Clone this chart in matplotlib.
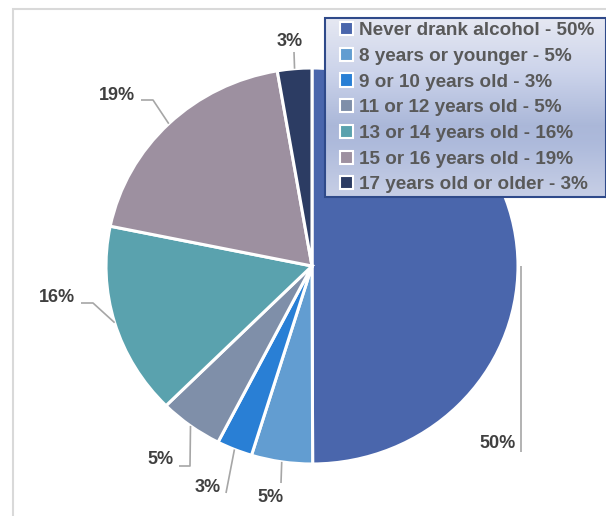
import numpy as np
import matplotlib.pyplot as plt
from matplotlib.patches import Patch, Rectangle

categories = ["Never drank alcohol", "8 years or younger", "9 or 10 years old",
              "11 or 12 years old", "13 or 14 years old", "15 or 16 years old",
              "17 years old or older"]
shares = [50.0, 4.8, 2.8, 5.0, 15.7, 19.1, 2.7]
pct_text = ["50%", "5%", "3%", "5%", "16%", "19%", "3%"]
colors = ["#4A66AC", "#629DD1", "#297FD5", "#7F8FA9", "#5AA2AE", "#9D90A0", "#2C3C63"]

W, H = 606, 516
FONT = ['Liberation Sans', 'DejaVu Sans']


def px(x, y):
    # pixel position (top-left origin) -> data coords of the overlay axes
    return x, H - y


def main():
    plt.rcParams['font.family'] = FONT
    fig = plt.figure(figsize=(W / 100, H / 100), dpi=100)

    # outer chart frame
    fig.patches.append(Rectangle((13 / W, -0.1), 1.2, (H - 9) / H + 0.1,
                                 transform=fig.transFigure, fill=False,
                                 edgecolor="#D9D9D9", linewidth=1.5))

    # pie in its own axes (slightly wider than tall, like the original)
    pl, pt, pr, pb = 106, 68, 518, 464
    pax = fig.add_axes([pl / W, (H - pb) / H, (pr - pl) / W, (pb - pt) / H])
    wedges, _ = pax.pie(shares, colors=colors, startangle=90, counterclock=False,
                        radius=1, wedgeprops=dict(edgecolor="white", linewidth=2.2))
    pax.set_xlim(-1, 1)
    pax.set_ylim(-1, 1)
    pax.set_aspect("auto")
    pax.axis("off")

    ax = fig.add_axes([0, 0, 1, 1])
    ax.set_xlim(0, W)
    ax.set_ylim(0, H)
    ax.axis("off")

    cx, cy = px((pl + pr) / 2, (pt + pb) / 2)
    rx, ry = (pr - pl) / 2, (pb - pt) / 2

    # data labels with leader lines
    label_pos = [(498, 443), (271, 497), (208, 488), (161, 460), (57, 297), (117, 96), (290, 42)]
    elbows = [[(521, 452)], [(281, 483)], [(226, 493)], [(179, 466), (190, 466)],
              [(81, 303), (93, 303)], [(141, 100), (153, 100)], [(294, 52)]]
    for i, (w, txt, pos, elb) in enumerate(zip(wedges, pct_text, label_pos, elbows)):
        mid = np.deg2rad((w.theta1 + w.theta2) / 2)
        a = (cx + rx * np.cos(mid), cy + ry * np.sin(mid))
        pts = [px(*p) for p in elb]
        if i == 0:
            pts.append((pts[0][0], a[1]))
        else:
            pts.append(a)
        xs, ys = zip(*pts)
        ax.plot(xs, ys, color="#A6A6A6", linewidth=1.2, solid_capstyle="butt")
        ax.text(*px(*pos), txt, ha="center", va="center", fontsize=13,
                fontweight="bold", color="#404040")

    # legend box with gradient
    lx0, ly0, lx1, ly1 = 325, 18, 606, 197
    grad = np.array([
        [0.90, 0.91, 0.95],
        [0.80, 0.83, 0.92],
        [0.67, 0.72, 0.85],
        [0.68, 0.73, 0.86],
        [0.78, 0.81, 0.90],
    ])
    stops = [0.0, 0.3, 0.6, 0.7, 1.0]
    t = np.linspace(0, 1, 200)
    img = np.stack([np.interp(t, stops, grad[:, k]) for k in range(3)], axis=-1)
    img = np.repeat(img[:, None, :], 2, axis=1)
    ax.imshow(img, extent=(lx0, lx1, H - ly1, H - ly0), aspect="auto", zorder=3)
    ax.add_patch(Rectangle(px(lx0, ly1), lx1 - lx0, ly1 - ly0, fill=False,
                           edgecolor="#2F4A8A", linewidth=1.5, zorder=4))
    ax.set_xlim(0, W)
    ax.set_ylim(0, H)

    handles = [Patch(facecolor=c, edgecolor="white", linewidth=1.5) for c in colors]
    labels = ["%s - %s" % (c, p) for c, p in zip(categories, pct_text)]
    leg = ax.legend(handles, labels, loc="upper left", bbox_to_anchor=px(338, 20),
                    bbox_transform=ax.transData, frameon=False, borderaxespad=0,
                    borderpad=0.1, labelspacing=0.45, handlelength=0.7,
                    handleheight=0.7, handletextpad=0.3,
                    prop=dict(family=FONT, weight="bold", size=13.6))
    leg.set_zorder(5)
    for tx in leg.get_texts():
        tx.set_color("#595959")

    fig.savefig("out.png", dpi=100)


if __name__ == "__main__":
    main()
